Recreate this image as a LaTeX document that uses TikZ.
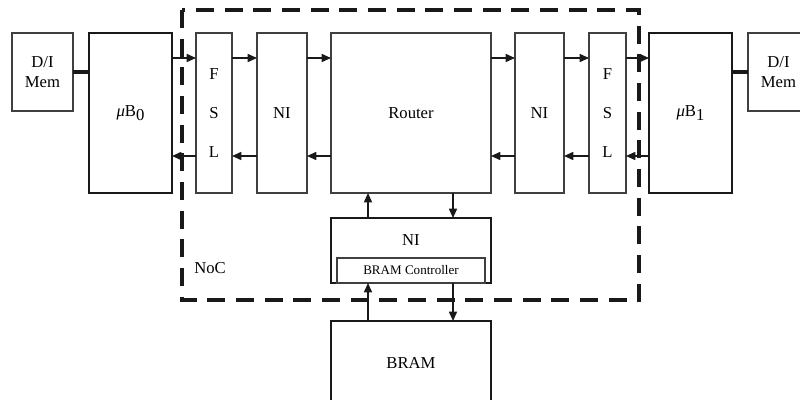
\documentclass[tikz,border=0pt]{standalone}
\usepackage{fontspec}
\setmainfont{Liberation Serif}
\usetikzlibrary{arrows.meta,calc}
\def\px{0.75pt}
\tikzset{
  box/.style={draw=black!75, line width=0.9pt, inner sep=0pt, outer sep=0pt, font=\fontsize{12.5}{15}\selectfont},
  heavybox/.style={box, draw=black!90, line width=1.5pt},
  arr/.style={draw=black!90, line width=1.2pt, -{Triangle[length=7pt,width=6pt]}},
  membus/.style={draw=black!90, line width=2.4pt},
  nocline/.style={draw=black!90, line width=2.4pt, dash pattern=on 13.5pt off 8pt},
  lbl/.style={inner sep=0pt, font=\fontsize{12.5}{15}\selectfont}
}
\begin{document}
\begin{tikzpicture}[x=0.75pt,y=-0.75pt]
\useasboundingbox (0,0) rectangle (800,400);
\clip (0,0) rectangle (800,400);
% NoC dashed region
\draw[nocline] (182,10) rectangle (639,300);
% boxes
\node[box, minimum width=61*\px, minimum height=78*\px, align=center] (mem0) at (42.5,72) {D/I\\Mem};
\node[heavybox, minimum width=83*\px, minimum height=160*\px] (mu0) at (130.5,113) {\textit{μ}B\raisebox{-0.5ex}{0}};
\node[box, minimum width=36*\px, minimum height=160*\px, align=center] (fsl0) at (214,113) {F\\[14pt]S\\[14pt]L};
\node[box, minimum width=50*\px, minimum height=160*\px] (ni0) at (282,113) {NI};
\node[box, minimum width=160*\px, minimum height=160*\px] (router) at (411,113) {Router};
\node[box, minimum width=49*\px, minimum height=160*\px] (ni1) at (539.5,113) {NI};
\node[box, minimum width=37*\px, minimum height=160*\px, align=center] (fsl1) at (607.5,113) {F\\[14pt]S\\[14pt]L};
\node[heavybox, minimum width=83*\px, minimum height=160*\px] (mu1) at (690.5,113) {\textit{μ}B\raisebox{-0.5ex}{1}};
\node[box, minimum width=61*\px, minimum height=78*\px, align=center] (mem1) at (778.5,72) {D/I\\Mem};
\node[heavybox, minimum width=160*\px, minimum height=65*\px] (ni2) at (411,250.5) {};
\node[lbl] (ni2text) at (411,240) {NI};
\node[box, minimum width=148*\px, minimum height=25*\px, font=\fontsize{9.8}{11}\selectfont] (ctrl) at (411,270.5) {BRAM Controller};
\node[heavybox, minimum width=160*\px, minimum height=84*\px] (bram) at (411,363) {BRAM};
\node[lbl, anchor=west] (noc) at (194,268) {NoC};
% memory buses
\draw[membus] (mem0.east) -- (mu0.west |- mem0.east);
\draw[membus] (mem1.west) -- (mu1.east |- mem1.west);
% horizontal links
\coordinate (top) at (0,58);
\coordinate (bot) at (0,156);
\draw[arr] (mu0.east |- top) -- (fsl0.west |- top);
\draw[arr] (fsl0.east |- top) -- (ni0.west |- top);
\draw[arr] (ni0.east |- top) -- (router.west |- top);
\draw[arr] (router.east |- top) -- (ni1.west |- top);
\draw[arr] (ni1.east |- top) -- (fsl1.west |- top);
\draw[arr] (fsl1.east |- top) -- (mu1.west |- top);
\draw[arr] (fsl0.west |- bot) -- (mu0.east |- bot);
\draw[arr] (ni0.west |- bot) -- (fsl0.east |- bot);
\draw[arr] (router.west |- bot) -- (ni0.east |- bot);
\draw[arr] (ni1.west |- bot) -- (router.east |- bot);
\draw[arr] (fsl1.west |- bot) -- (ni1.east |- bot);
\draw[arr] (mu1.west |- bot) -- (fsl1.east |- bot);
% vertical links
\coordinate (ux) at (368,0);
\coordinate (dx) at (453,0);
\draw[arr] (ni2.north -| ux) -- (router.south -| ux);
\draw[arr] (router.south -| dx) -- (ni2.north -| dx);
\draw[arr] (bram.north -| ux) -- (ctrl.south -| ux);
\draw[arr] (ctrl.south -| dx) -- (bram.north -| dx);
\end{tikzpicture}
\end{document}
